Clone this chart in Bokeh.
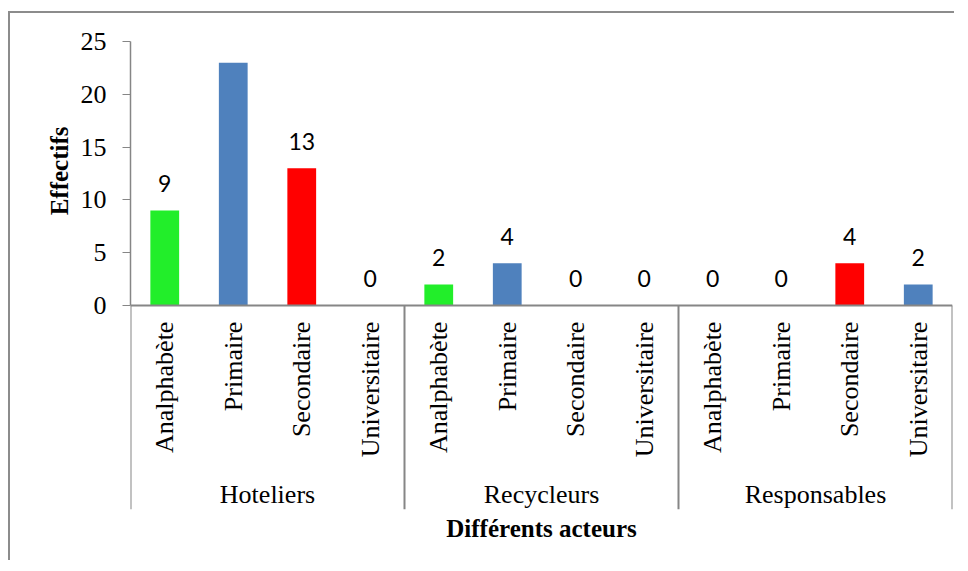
import numpy as np
from bokeh.plotting import figure
from bokeh.models import FactorRange, Range1d, ColumnDataSource, FixedTicker, Span, Title
from bokeh.core.properties import value
from bokeh.embed import file_html
from bokeh.resources import INLINE

# ---- data ----
groups = ["Hoteliers", "Recycleurs", "Responsables"]
levels = ["Analphabète", "Primaire", "Secondaire", "Universitaire"]
hoteliers = [9, 23, 13, 0]
recycleurs = [2, 4, 0, 0]
responsables = [0, 0, 4, 2]
hoteliers_labels = ["9", "", "13", "0"]
recycleurs_labels = ["2", "4", "0", "0"]
responsables_labels = ["0", "0", "4", "2"]
level_colors = ["#22EE2A", "#4F81BD", "#FF0000", "#4F81BD"]
y_ticks = [0, 5, 10, 15, 20, 25]
y_title = "Effectifs"
x_title = "Différents acteurs"

series = [hoteliers, recycleurs, responsables]
series_labels = [hoteliers_labels, recycleurs_labels, responsables_labels]

x = [(g, l) for g in groups for l in levels]
counts = [v for s in series for v in s]
labels = [t for s in series_labels for t in s]
colors = [c for _ in groups for c in level_colors]
cat_names = [l for _ in groups for l in levels]

src = ColumnDataSource(dict(x=x, counts=counts, labels=labels, colors=colors, cat=cat_names))

SERIF = "Liberation Serif"
GRAY = "#868686"

y_bottom = -19.3
p = figure(
    width=946, height=549,
    x_range=FactorRange(*x, group_padding=0, factor_padding=0, range_padding=0),
    y_range=Range1d(y_bottom, y_ticks[-1]),
    x_axis_location=None,
    output_backend="svg", toolbar_location=None,
    min_border_left=120, min_border_right=4, min_border_top=28, min_border_bottom=53,
    margin=(11, 0, 0, 8),
)
p.styles = {"border-left": "2px solid #8c8c8c", "border-top": "2px solid #8c8c8c"}
p.outline_line_color = None
p.grid.visible = False
p.background_fill_color = "white"
p.border_fill_color = "white"

# bars
p.vbar(x="x", top="counts", width=0.42, fill_color="colors", line_color=None, source=src)

# data labels
p.text(x="x", y="counts", text="labels", source=src, text_align="center",
       text_baseline="alphabetic", y_offset=-27, text_font=value("Lato"),
       text_font_size="23px", text_color="black")

# category labels (rotated)
p.text(x="x", y=0, text="cat", source=src, angle=np.pi / 2, text_align="right",
       text_baseline="middle", y_offset=16, text_font=value(SERIF),
       text_font_size="26px", text_color="black")

# group labels
gsrc = ColumnDataSource(dict(x=groups, t=groups))
p.text(x="x", y=0, text="t", source=gsrc, text_align="center", text_baseline="middle",
       y_offset=189, text_font=value(SERIF), text_font_size="26px", text_color="black")

# group separators
bounds = (np.arange(len(groups) + 1) * len(levels)).astype(float)
p.segment(x0=bounds, y0=0, x1=bounds, y1=y_bottom, line_color=GRAY, line_width=2)

# x axis line
p.add_layout(Span(location=0, dimension="width", line_color=GRAY, line_width=2))

# y axis
ax = p.yaxis[0]
ax.bounds = (y_ticks[0], y_ticks[-1])
ax.ticker = FixedTicker(ticks=y_ticks, minor_ticks=[])
ax.axis_line_color = GRAY
ax.axis_line_width = 1.5
ax.major_tick_line_color = GRAY
ax.major_tick_in = 0
ax.major_tick_out = 8
ax.minor_tick_line_color = None
ax.major_label_standoff = 16
ax.major_label_text_font = SERIF
ax.major_label_text_font_size = "26px"
ax.major_label_text_color = "black"

# y title
p.add_layout(Title(text=y_title, align="right", offset=85, text_font=SERIF,
                   text_font_size="25px", text_font_style="bold", text_color="black",
                   standoff=10), "left")

# x title
p.add_layout(Title(text=x_title, align="center", text_font=SERIF, text_font_size="25px",
                   text_font_style="bold", text_color="black", standoff=6), "below")

open("out.html", "w").write(file_html(p, INLINE))
